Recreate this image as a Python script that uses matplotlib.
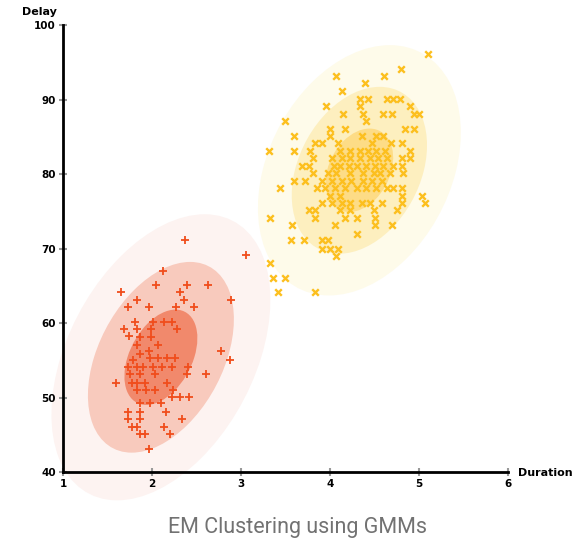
import numpy as np
import matplotlib
matplotlib.use('Agg')
import matplotlib.pyplot as plt
from matplotlib.patches import Ellipse

# 数据：两个簇
red_x = [2.37, 3.06, 2.12, 2.05, 2.39, 2.63, 1.65, 2.32, 1.83, 2.36, 1.73, 1.97, 2.27, 2.47, 2.89,
         1.81, 1.69, 1.83, 1.99, 2.01, 2.13, 2.22, 2.28, 1.74, 1.87, 1.99, 2.07, 1.83, 1.97, 1.98,
         2.78, 2.88, 1.73, 1.83, 1.90, 2.07, 2.17, 2.26, 2.41, 2.39, 2.61, 1.59, 1.75, 1.87, 2.03,
         2.17, 1.77, 1.92, 1.83, 1.93, 2.03, 2.24, 2.22, 2.31, 2.42, 1.87, 1.98, 2.10, 1.73, 1.87,
         2.16, 1.73, 1.86, 2.34, 1.77, 1.83, 2.14, 1.87, 1.92, 2.20, 1.97, 1.79, 1.87, 2.01, 2.11,
         2.22, 1.83]
red_y = [71.1, 69.1, 67.0, 65.1, 65.1, 65.1, 64.1, 64.2, 63.1, 63.1, 62.1, 62.1, 62.1, 62.1, 63.1,
         60.2, 59.2, 59.2, 59.2, 60.2, 60.2, 60.2, 59.2, 58.2, 58.1, 58.1, 57.1, 57.1, 56.2, 55.3,
         56.2, 55.1, 54.1, 54.1, 54.1, 55.3, 55.3, 55.3, 54.1, 53.1, 53.1, 52.0, 53.1, 53.1, 53.1,
         52.0, 52.0, 52.0, 51.0, 51.0, 51.0, 51.0, 50.1, 50.1, 50.1, 49.2, 49.2, 49.2, 48.1, 48.1,
         48.1, 47.1, 47.1, 47.1, 46.1, 46.1, 46.1, 45.1, 45.1, 45.1, 43.1, 55.0, 55.9, 54.1, 54.1,
         54.1, 52.0]

yellow_x = [5.10, 4.80, 4.07, 4.61, 4.39, 4.13,
            4.34, 4.43, 4.64, 4.71, 4.79,
            3.96, 4.34, 4.90,
            4.15, 4.37, 4.60, 4.70, 4.94, 5.00,
            3.49, 4.41,
            4.00, 4.17, 4.84, 4.94,
            3.59, 4.00, 4.36, 4.52, 4.60,
            3.83, 3.91, 4.09, 4.47, 4.69, 4.81,
            3.31, 3.59, 3.77, 4.11, 4.22, 4.34, 4.43, 4.52, 4.62, 4.90,
            3.81, 4.02, 4.13, 4.22, 4.34, 4.45, 4.54, 4.64, 4.81, 4.90,
            3.68, 3.76, 4.04, 4.11, 4.21, 4.30, 4.41, 4.51, 4.60, 4.71, 4.81,
            3.81, 3.98, 4.07, 4.22, 4.37, 4.49, 4.56, 4.67, 4.82,
            3.59, 3.72, 3.91, 4.02, 4.13, 4.24, 4.37, 4.47, 4.58,
            3.44, 3.85, 3.94, 4.06, 4.17, 4.30, 4.41, 4.52, 4.64, 4.71, 4.81,
            4.00, 4.11, 4.81, 5.03,
            3.91, 4.02, 4.13, 4.22, 4.36, 4.45, 4.58, 4.81, 5.07,
            3.76, 3.83, 4.11, 4.22, 4.49, 4.75,
            3.33, 3.83, 4.17, 4.30, 4.51,
            3.57, 4.06, 4.51, 4.70,
            4.30,
            3.56, 3.71, 3.91, 3.98,
            3.91, 4.00, 4.09,
            4.07, 3.33, 3.36, 3.49, 3.42, 3.83]
yellow_y = [96.1, 94.1, 93.2, 93.2, 92.2, 91.1,
            90.1, 90.1, 90.1, 90.1, 90.1,
            89.1, 89.1, 89.1,
            88.1, 88.1, 88.1, 88.1, 88.1, 88.1,
            87.1, 87.1,
            86.1, 86.1, 86.1, 86.1,
            85.1, 85.1, 85.1, 85.1, 85.1,
            84.1, 84.1, 84.1, 84.1, 84.1, 84.1,
            83.1, 83.1, 83.1, 83.1, 83.1, 83.1, 83.1, 83.1, 83.1, 83.1,
            82.1, 82.1, 82.1, 82.1, 82.1, 82.1, 82.1, 82.1, 82.1, 82.1,
            81.1, 81.1, 81.1, 81.1, 81.1, 81.1, 81.1, 81.1, 81.1, 81.1, 81.1,
            80.1, 80.1, 80.1, 80.1, 80.1, 80.1, 80.1, 80.1, 80.1,
            79.1, 79.1, 79.1, 79.1, 79.1, 79.1, 79.1, 79.1, 79.1,
            78.1, 78.1, 78.1, 78.1, 78.1, 78.1, 78.1, 78.1, 78.1, 78.1, 78.1,
            77.1, 77.1, 77.1, 77.1,
            76.1, 76.1, 76.1, 76.1, 76.1, 76.1, 76.1, 76.1, 76.1,
            75.2, 75.2, 75.2, 75.2, 75.2, 75.2,
            74.1, 74.1, 74.1, 74.1, 74.1,
            73.2, 73.2, 73.2, 73.2,
            72.0,
            71.1, 71.1, 71.1, 71.1,
            70.0, 70.0, 70.0,
            69.0, 68.1, 66.1, 66.1, 64.1, 64.1]

# 高斯分量参数 (均值, sigma_x, sigma_y, 相关系数)
red_gauss = [(2.10, 55.4), 0.41, 6.4, 0.40]
yellow_gauss = [(4.33, 80.5), 0.38, 5.6, 0.30]

red_fill = ['#fdf3f1', '#f8cabd', '#f1896c']
yellow_fill = ['#fefbea', '#fdefbf', '#fddc86']


def add_ellipses(ax, g, colors):
    mean, sx, sy, rho = g
    cov = np.array([[sx * sx, rho * sx * sy], [rho * sx * sy, sy * sy]])
    vals, vecs = np.linalg.eigh(cov)
    angle = np.degrees(np.arctan2(vecs[1, 1], vecs[0, 1]))
    for k, c in zip([3, 2, 1], colors):
        e = Ellipse(mean, width=2 * k * np.sqrt(vals[1]), height=2 * k * np.sqrt(vals[0]),
                    angle=angle, facecolor=c, edgecolor='none', zorder=1, clip_on=False)
        ax.add_patch(e)


fig = plt.figure(figsize=(5.79, 5.46), dpi=100)
ax = fig.add_axes([0.1088, 0.1355, 0.7686, 0.8187])

add_ellipses(ax, red_gauss, red_fill)
add_ellipses(ax, yellow_gauss, yellow_fill)

ax.scatter(red_x, red_y, marker='+', s=36, linewidths=1.3, color='#f04d1c', zorder=3, clip_on=False)
ax.scatter(yellow_x, yellow_y, marker='x', s=22, linewidths=1.7, color='#fcbf1e', zorder=3, clip_on=False)

ax.set_xlim(1, 6)
ax.set_ylim(40, 100)
ax.set_xticks([1, 2, 3, 4, 5, 6])
ax.set_yticks([40, 50, 60, 70, 80, 90, 100])
for s in ['top', 'right']:
    ax.spines[s].set_visible(False)
for s in ['left', 'bottom']:
    ax.spines[s].set_linewidth(2)
    ax.spines[s].set_zorder(4)
ax.tick_params(direction='inout', length=6, width=1.5, color='#999999', labelsize=7.5, pad=2)
for lab in ax.get_xticklabels() + ax.get_yticklabels():
    lab.set_fontweight('bold')
ax.patch.set_alpha(0)

fig.text(39 / 579, 1 - 12 / 546, 'Delay', ha='center', va='center', fontsize=8, fontweight='bold')
fig.text(518 / 579, 1 - 473 / 546, 'Duration', ha='left', va='center', fontsize=8, fontweight='bold')
fig.text(297 / 579, 1 - 527 / 546, 'EM Clustering using GMMs', ha='center', va='center',
         fontsize=15.5, color='#727272', family='Roboto')

fig.savefig('out.png', dpi=100)
